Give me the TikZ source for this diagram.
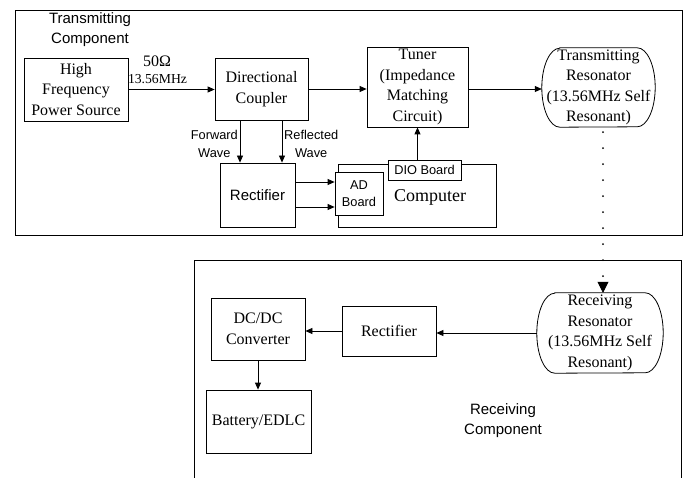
\documentclass[tikz,border=0pt]{standalone}
\usepackage{fontspec}
\setmainfont{Liberation Serif}
\setsansfont{Liberation Sans}
\usetikzlibrary{arrows.meta, positioning, calc}
\newcommand{\rmsize}{\fontsize{16}{20.5}\selectfont}
\newcommand{\sfsize}{\sffamily\fontsize{15}{20}\selectfont}
\newcommand{\sfsmall}{\sffamily\fontsize{12.8}{17.5}\selectfont}
% oval outline round a resonator node: #1 node name, #2 half height
\newcommand{\resonoutline}[2]{%
  \draw[line width=0.8pt] ([xshift=18pt]#1.north west) -- ([xshift=-18pt]#1.north east)
    arc[start angle=90, end angle=-90, x radius=18pt, y radius=#2]
    -- ([xshift=18pt]#1.south west)
    arc[start angle=270, end angle=90, x radius=18pt, y radius=#2] -- cycle;}
\tikzset{
  blk/.style       = {draw, line width=0.8pt, fill=white, align=center,
                      inner sep=0pt, font=\rmsize},
  sblk/.style      = {blk, font=\sfsize},
  reson/.style     = {rectangle, inner sep=0pt},
  lbl/.style       = {align=center, inner sep=0pt},
  arr/.style       = {-{Triangle[length=7pt,width=6pt]}, line width=0.8pt},
  compframe/.style = {line width=0.9pt},
}
\begin{document}
\begin{tikzpicture}[x=1pt, y=-1pt]
  \useasboundingbox (0,0) rectangle (699,478);
  % component frames
  \draw[compframe] (15,10) rectangle (682,235);
  \draw[compframe] (194,478) -- (194,260) -- (681,260) -- (681,478);

  % transmitting side
  \node[lbl, font=\sfsize] (txlbl) at (90,30) {Transmitting\\Component};
  \node[blk, minimum width=104pt, minimum height=63pt] (hf) at (76,89.5) {High\\Frequency\\Power Source};
  \node[blk, minimum width=93pt, minimum height=62pt] (dc) at (261.5,89) {Directional\\Coupler};
  \node[blk, minimum width=101pt, minimum height=80pt] (tuner) at (417.5,87) {Tuner\\(Impedance\\Matching\\Circuit)};
  \node[reson, minimum width=113pt, minimum height=79pt] (txres) at (598.5,87.5) {};
  \resonoutline{txres}{39.5pt}
  \node[lbl, font=\rmsize] (txreslbl) at (txres.center) {Transmitting\\Resonator\\(13.56MHz Self\\Resonant)};
  \node[lbl, font=\rmsize] (ohm) at (157,61) {50Ω};
  \node[lbl, font=\fontsize{13.7}{16}\selectfont] (freq) at (157.5,79) {13.56MHz};

  % measurement branch
  \node[sblk, minimum width=75pt, minimum height=64pt] (rect) at (257.5,195) {Rectifier};
  \node[draw, compframe, minimum width=158pt, minimum height=63pt] (comp) at (417,195.5) {};
  \node[lbl, font=\fontsize{18}{20}\selectfont] (complbl) at (430,197) {Computer};
  \node[sblk, font=\sfsmall, minimum width=48pt, minimum height=43pt] (ad) at (359,193.5) {AD\\Board};
  \node[sblk, font=\sfsmall, minimum width=73pt, minimum height=20pt] (dio) at (424.5,170) {DIO Board};
  \node[lbl, font=\sfsmall, anchor=east] (fwdlbl) at (238,144) {Forward\\Wave};
  \node[lbl, font=\sfsmall, anchor=west] (reflbl) at (284,144) {Reflected\\Wave};

  \draw[arr] (hf.east) -- (hf.east -| dc.west);
  \draw[arr] (dc.east) -- (dc.east -| tuner.west);
  \draw[arr] (tuner.east |- dc.east) -- (tuner.east |- dc.east -| txres.west);
  \draw[arr] ([xshift=-21.5pt]dc.south) -- ([xshift=-21.5pt]dc.south |- rect.north);
  \draw[arr] ([xshift=20.5pt]dc.south) -- ([xshift=20.5pt]dc.south |- rect.north);
  \draw[arr] ([yshift=13pt]rect.east) -- ([yshift=13pt]rect.east -| ad.west);
  \draw[arr] ([yshift=-12pt]rect.east) -- ([yshift=-12pt]rect.east -| ad.west);
  \draw[arr] (tuner.south |- dio.north) -- (tuner.south);

  % receiving side
  \node[reson, minimum width=126pt, minimum height=80pt] (rxres) at (600,333) {};
  \resonoutline{rxres}{40pt}
  \node[lbl, font=\rmsize] (rxreslbl) at (rxres.center) {Receiving\\Resonator\\(13.56MHz Self\\Resonant)};
  \node[blk, minimum width=94pt, minimum height=50pt] (rrect) at (389,331) {Rectifier};
  \node[blk, minimum width=94pt, minimum height=62pt] (dcdc) at (258,329) {DC/DC\\Converter};
  \node[blk, minimum width=105pt, minimum height=63pt] (batt) at (258.5,421.5) {Battery/EDLC};
  \node[lbl, font=\sfsize] (rxlbl) at (503,421) {Receiving\\Component};

  \draw[arr] (rxres.west) -- (rxres.west -| rrect.east);
  \draw[arr] (rrect.west) -- (rrect.west -| dcdc.east);
  \draw[arr] (dcdc.south) -- (dcdc.south |- batt.north);

  % coupling between resonators
  \draw[line width=2pt, line cap=round, dash pattern=on 0pt off 16pt,
        -{Triangle[length=11pt,width=11pt,line width=0.5pt]}]
    ([xshift=4.5pt,yshift=-5pt]txres.south) -- ([xshift=3pt]rxres.north);
\end{tikzpicture}
\end{document}
